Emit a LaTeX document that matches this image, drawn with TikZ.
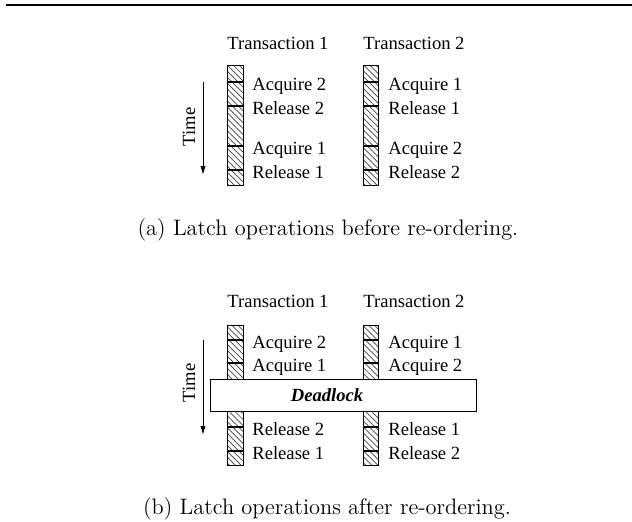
\documentclass[tikz,border=0pt]{standalone}
\usepackage{fontspec}
\newfontfamily\timesfont{Liberation Serif}
\usetikzlibrary{patterns.meta,arrows.meta}

\tikzset{
  txt/.style={font=\timesfont\fontsize{9.3}{11}\selectfont, inner sep=0pt},
  latch/.style={draw, line width=0.4pt,
    pattern={Lines[angle=-45,distance=2.1pt,line width=0.35pt]}, pattern color=black!75},
  latchtick/.style={line width=1.1pt},
  subcap/.style={font=\fontsize{11.2}{13}\selectfont, inner sep=0pt, anchor=base},
  timeaxis/.style={-{Latex[length=4.5pt,width=2.6pt]}, line width=0.45pt}
}

\begin{document}
\begin{tikzpicture}[x=0.5pt,y=-0.5pt]
\useasboundingbox (0,0) rectangle (632,521);
\draw[line width=0.8pt] (6,5) -- (632,5);

% (a) before re-ordering
\node[txt,anchor=base] (ta1) at (278,49.5) {Transaction 1};
\node[txt,anchor=base] (ta2) at (414,49.5) {Transaction 2};
\draw[latch] (227,65) rectangle (243,185);
\draw[latch] (363,65) rectangle (378,185);
\foreach \y/\a/\b in {82/Acquire 2/Acquire 1, 106/Release 2/Release 1,
                      146/Acquire 1/Acquire 2, 170/Release 1/Release 2}{
  \draw[latchtick] (227,\y) -- (243,\y);
  \draw[latchtick] (363,\y) -- (378,\y);
  \node[txt,anchor=base west] (la\y) at (252,\y+8) {\a};
  \node[txt,anchor=base west] (ra\y) at (388,\y+8) {\b};
}
\coordinate (sa) at (203,82);
\coordinate (ea) at (203,175);
\draw[timeaxis] (sa) -- (ea);
\node[txt,rotate=90] (timea) at (189,127) {Time};
\node[subcap] (capa) at (328,235) {(a) Latch operations before re-ordering.};

% (b) after re-ordering
\node[txt,anchor=base] (tb1) at (278,307.5) {Transaction 1};
\node[txt,anchor=base] (tb2) at (414,307.5) {Transaction 2};
\draw[latch] (227,325) rectangle (243,465);
\draw[latch] (363,325) rectangle (378,465);
\foreach \y/\a/\b in {340/Acquire 2/Acquire 1, 363/Acquire 1/Acquire 2,
                      427/Release 2/Release 1, 451/Release 1/Release 2}{
  \draw[latchtick] (227,\y) -- (243,\y);
  \draw[latchtick] (363,\y) -- (378,\y);
  \node[txt,anchor=base west] (lb\y) at (252,\y+8) {\a};
  \node[txt,anchor=base west] (rb\y) at (388,\y+8) {\b};
}
\draw[fill=white,line width=0.4pt] (210,379) rectangle (476,411);
\node[txt,anchor=base,font=\timesfont\fontsize{9.3}{11}\selectfont\bfseries\itshape] (dl) at (327,401.5) {Deadlock};
\coordinate (sb) at (203,340);
\coordinate (eb) at (203,435);
\draw[timeaxis] (sb) -- (eb);
\node[txt,rotate=90] (timeb) at (189,383) {Time};
\node[subcap] (capb) at (327,514) {(b) Latch operations after re-ordering.};
\end{tikzpicture}
\end{document}
